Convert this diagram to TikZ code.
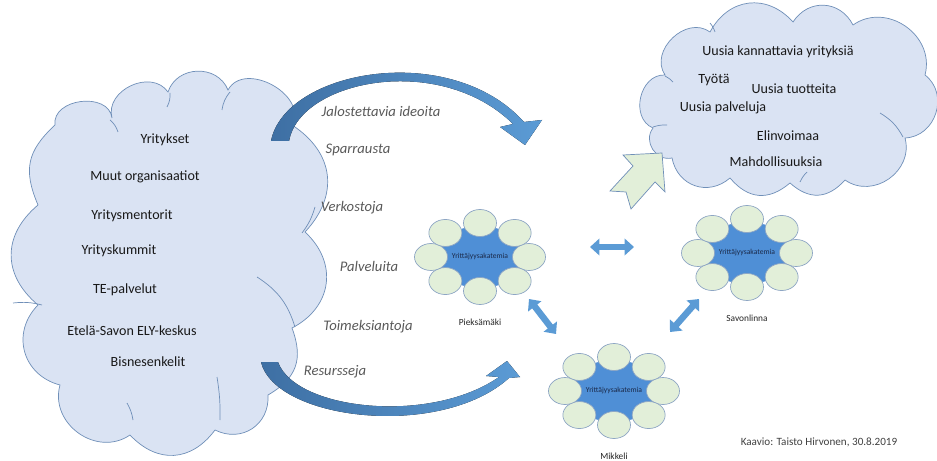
\documentclass[tikz,border=0pt]{standalone}
\usepackage{fontspec}
\setmainfont{Carlito}
\usetikzlibrary{calc,positioning,arrows.meta,shapes.geometric}

\definecolor{cloudfill}{HTML}{DAE3F3}
\definecolor{cloudline}{HTML}{6F8FB8}
\definecolor{arrowblue}{HTML}{5B9BD5}
\definecolor{arrowdark}{HTML}{3E6FA3}
\definecolor{petalfill}{HTML}{E2EFD9}
\definecolor{petalline}{HTML}{8EA6C4}
\definecolor{coreblue}{HTML}{4F8FD6}
\definecolor{coretext}{HTML}{1B2A4A}
\definecolor{labelgrey}{HTML}{595959}

% one academy: blue core, ring of petals, town below
\newcommand{\akatemia}[4]{%
    \node[core] (#1) at (#2,#3) {Yrittäjyysakatemia};
    \foreach \a in {0,45,...,315}
        \node[petal] (#1-\a) at ($(#1)+(\a:49 and 34)$) {};
    \node[city] (#1-city) at ($(#1)+(0,65)$) {#4};
}

\begin{document}
\begin{tikzpicture}[x=0.03cm, y=-0.03cm,
    puff/.style={bend left=#1, looseness=1.2},
    cloudbody/.style={fill=cloudfill, draw=cloudline, line width=0.6pt},
    innerarc/.style={draw=cloudline, line width=0.6pt},
    cloudtext/.style={font=\fontsize{12}{14}\selectfont, text=black!90, text height=8pt, text depth=2pt, inner sep=0pt},
    flowtext/.style={font=\fontsize{12.5}{14}\selectfont\itshape, text=labelgrey, text height=8pt, text depth=2pt, inner sep=0pt},
    core/.style={ellipse, fill=coreblue, minimum width=2.75cm, minimum height=1.85cm, inner sep=0pt, font=\fontsize{6.5}{7}\selectfont, text=coretext},
    petal/.style={ellipse, fill=petalfill, draw=petalline, line width=0.6pt, minimum width=0.99cm, minimum height=0.81cm, inner sep=0pt},
    city/.style={font=\fontsize{8}{9}\selectfont, text=black!85},
    linkarrow/.style={arrowblue, line width=5.5pt, {Triangle[width=14pt,length=8pt]}-{Triangle[width=14pt,length=8pt]}},
    bigarrow/.style={left color=arrowdark, right color=arrowblue, draw=none},
  ]
    \useasboundingbox (0,0) rectangle (937,461);

    % left cloud
    \draw[cloudbody] (38,205) to[puff=35] (55,125) to[puff=90] (112,118) to[puff=80] (168,92)
        to[puff=70] (228,90) to[puff=90] (292,125) to[puff=50] (305,232) to[puff=55] (292,328)
        to[puff=40] (268,395) to[puff=60] (215,430) to[puff=50] (130,435) to[puff=70] (60,385)
        to[puff=60] (38,305) to[puff=50] (38,205) -- cycle;
    \draw[innerarc] (110,120) to[bend left=15] (118,132);
    \draw[innerarc] (170,93) to[bend left=15] (167,107);
    \draw[innerarc] (230,92) to[bend right=15] (222,110);
    \draw[innerarc] (315,207) to[bend left=10] (302,233);
    \draw[innerarc] (257,277) to[bend left=20] (295,327);
    \draw[innerarc] (13,303) to[bend left=10] (42,305);
    \draw[innerarc] (127,403) to[bend left=10] (133,420);
    \draw[innerarc] (217,377) to[bend left=5] (220,420);

    % right cloud
    \draw[cloudbody] (653,128) to[puff=80] (665,75) to[puff=80] (710,32) to[puff=55] (793,22)
        to[puff=60] (853,25) to[puff=70] (925,75) to[puff=70] (905,138) to[puff=70] (845,180)
        to[puff=45] (790,183) to[puff=45] (730,178) to[puff=60] (672,158) to[puff=70] (653,128) -- cycle;
    \draw[innerarc] (665,76) to[bend left=10] (673,82);
    \draw[innerarc] (710,23) to[bend left=10] (715,32);
    \draw[innerarc] (880,113) to[bend left=15] (903,137);
    \draw[innerarc] (800,182) to[bend left=10] (807,172);
    \draw[innerarc] (653,127) to[bend left=10] (667,125);

    % texts in the clouds
    \node[cloudtext] (yritykset) at (165,140) {Yritykset};
    \node[cloudtext] (muut) at (145,177) {Muut organisaatiot};
    \node[cloudtext] (mentorit) at (132,216) {Yritysmentorit};
    \node[cloudtext] (kummit) at (119,251) {Yrityskummit};
    \node[cloudtext] (te) at (125,290) {TE-palvelut};
    \node[cloudtext] (ely) at (132,332) {Etelä-Savon ELY-keskus};
    \node[cloudtext] (enkelit) at (148,363) {Bisnesenkelit};

    \node[cloudtext] (yrityksia) at (778,52) {Uusia kannattavia yrityksiä};
    \node[cloudtext] (tyota) at (714,80) {Työtä};
    \node[cloudtext] (tuotteita) at (794,90) {Uusia tuotteita};
    \node[cloudtext] (palveluja) at (723,108) {Uusia palveluja};
    \node[cloudtext] (elinvoimaa) at (788,137) {Elinvoimaa};
    \node[cloudtext] (mahdollisuuksia) at (776,163) {Mahdollisuuksia};

    % flows
    \node[flowtext] (ideoita) at (381,113) {Jalostettavia ideoita};
    \node[flowtext] (sparrausta) at (358,150) {Sparrausta};
    \node[flowtext] (verkostoja) at (352,208) {Verkostoja};
    \node[flowtext] (palveluita) at (369,268) {Palveluita};
    \node[flowtext] (toimeksiantoja) at (368,327) {Toimeksiantoja};
    \node[flowtext] (resursseja) at (335,372) {Resursseja};

    \fill[bigarrow] (271,141) .. controls (285,70) and (450,40) .. (524,122) -- (542,120) -- (525,145)
        -- (500,127) -- (513,124) .. controls (440,52) and (300,80) .. (289,141) -- cycle;
    \fill[bigarrow] (261,362) .. controls (275,420) and (440,440) .. (509,378) -- (520,377) -- (507,361)
        -- (486,376) -- (499,377) .. controls (430,425) and (295,410) .. (278,362) -- cycle;

    % academies
    \akatemia{pieks}{480}{257}{Pieksämäki}
    \akatemia{savo}{747}{253}{Savonlinna}
    \akatemia{mikk}{614}{391}{Mikkeli}

    \coordinate (ps-a) at (590,247);
    \coordinate (ps-b) at (634,247);
    \coordinate (pm-a) at (529,299);
    \coordinate (pm-b) at (556,334);
    \coordinate (sm-a) at (699,299);
    \coordinate (sm-b) at (670,332);
    \draw[linkarrow] (ps-a) -- (ps-b);
    \draw[linkarrow] (pm-a) -- (pm-b);
    \draw[linkarrow] (sm-a) -- (sm-b);

    % green arrow into the results
    \draw[fill=petalfill, draw=cloudline, line width=0.6pt, line join=miter]
        (662,153) -- (665,192) -- (655,182) -- (631,209) -- (626,192) -- (610,191) -- (633,166) -- (623,155) -- cycle;

    \node[font=\fontsize{9.5}{11}\selectfont, text=black!75] (kaavio) at (819,442) {Kaavio: Taisto Hirvonen, 30.8.2019};
\end{tikzpicture}
\end{document}
